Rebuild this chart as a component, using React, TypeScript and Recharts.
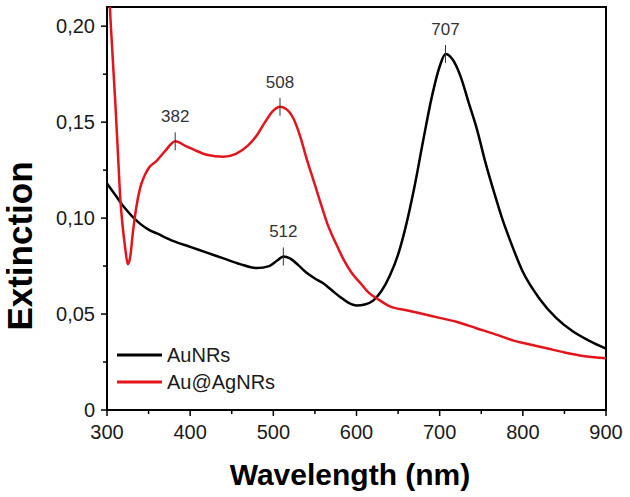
import React from "react";
import {
  ComposedChart,
  Line,
  Scatter,
  XAxis,
  YAxis,
  ReferenceArea,
} from "recharts";

// AuNRs extinction spectrum (wavelength nm, extinction)
const auWavelengths = [
  300, 310, 320, 330, 340, 350, 360, 380, 400, 420, 440, 460, 480, 495, 505,
  512, 520, 530, 540, 550, 560, 570, 580, 590, 600, 610, 620, 630, 640, 650,
  660, 670, 680, 690, 700, 707, 715, 725, 735, 745, 755, 765, 775, 785, 800,
  820, 840, 860, 880, 900,
];
const auExtinction = [
  0.118, 0.112, 0.106, 0.101, 0.097, 0.094, 0.092, 0.088, 0.085, 0.082, 0.079,
  0.076, 0.074, 0.075, 0.078, 0.08, 0.079, 0.0755, 0.0715, 0.0685, 0.066,
  0.0625, 0.059, 0.056, 0.0545, 0.055, 0.057, 0.062, 0.07, 0.081, 0.097, 0.117,
  0.14, 0.162, 0.179, 0.1855, 0.183, 0.174, 0.16, 0.146, 0.129, 0.114, 0.1,
  0.088, 0.072, 0.058, 0.048, 0.041, 0.036, 0.032,
];

// Au@AgNRs extinction spectrum
const agWavelengths = [
  300, 303, 306, 310, 313, 316, 319, 322, 325, 328, 331, 335, 340, 345, 350,
  360, 370, 382, 395, 405, 420, 440, 455, 470, 480, 490, 500, 508, 515, 524,
  532, 540, 548, 556, 565, 575, 585, 595, 605, 615, 625, 640, 660, 680, 700,
  720, 745, 770, 790, 810, 830, 850, 875, 900,
];
const agExtinction = [
  0.26, 0.215, 0.19, 0.16, 0.135, 0.11, 0.095, 0.084, 0.076, 0.08, 0.092,
  0.105, 0.116, 0.122, 0.126, 0.13, 0.135, 0.14, 0.1375, 0.1355, 0.133, 0.132,
  0.1335, 0.138, 0.143, 0.15, 0.156, 0.158, 0.157, 0.152, 0.143, 0.131, 0.12,
  0.109, 0.097, 0.087, 0.078, 0.071, 0.066, 0.061, 0.058, 0.054, 0.052, 0.05,
  0.048, 0.046, 0.0425, 0.039, 0.036, 0.034, 0.032, 0.03, 0.028, 0.027,
];

// annotated peaks
const peakWavelengths = [382, 508, 512, 707];
const peakExtinction = [0.14, 0.158, 0.08, 0.1855];

const seriesNames = ["AuNRs", "Au@AgNRs"];
const seriesColors = ["#000000", "#e3141b"];

const xTicks = [
  300, 350, 400, 450, 500, 550, 600, 650, 700, 750, 800, 850, 900,
];
const yTicks = [0, 0.025, 0.05, 0.075, 0.1, 0.125, 0.15, 0.175, 0.2];

const auData = auWavelengths.map((x, i) => ({ x, y: auExtinction[i] }));
const agData = agWavelengths.map((x, i) => ({ x, y: agExtinction[i] }));
const peakData = peakWavelengths.map((x, i) => ({ x, y: peakExtinction[i] }));

const FONT = "'Liberation Sans', Arial, sans-serif";

const XTick = ({ x, y, payload }: any) => {
  const major = payload.value % 100 === 0;
  return (
    <g>
      <line x1={x} x2={x} y1={y} y2={y + (major ? 6 : 4)} stroke="#000" strokeWidth={1.5} />
      {major && (
        <text x={x} y={y + 29} textAnchor="middle" fontSize={20} fontFamily={FONT} fill="#1a1a1a">
          {payload.value}
        </text>
      )}
    </g>
  );
};

const YTick = ({ x, y, payload }: any) => {
  const major = Math.round(payload.value * 1000) % 50 === 0;
  const label = payload.value === 0 ? "0" : payload.value.toFixed(2).replace(".", ",");
  return (
    <g>
      <line x1={x} x2={x - (major ? 6 : 4)} y1={y} y2={y} stroke="#000" strokeWidth={1.5} />
      {major && (
        <text x={x - 12} y={y + 7} textAnchor="end" fontSize={20} fontFamily={FONT} fill="#1a1a1a">
          {label}
        </text>
      )}
    </g>
  );
};

const PeakMark = ({ cx, cy, payload }: any) => (
  <g>
    <line x1={cx} x2={cx} y1={cy - 9} y2={cy + 9} stroke="#333" strokeWidth={1} />
    <text x={cx} y={cy - 19} textAnchor="middle" fontSize={17} fontFamily={FONT} fill="#333">
      {payload.x}
    </text>
  </g>
);

// legend drawn inside the plot, lower left
const LegendMarks = () => (
  <g>
    {seriesNames.map((name, i) => (
      <g key={name}>
        <line x1={117} x2={162} y1={355 + i * 27} y2={355 + i * 27} stroke={seriesColors[i]} strokeWidth={3} />
        <text x={167} y={362 + i * 27} fontSize={20} fontFamily={FONT} fill="#1a1a1a">
          {name}
        </text>
      </g>
    ))}
  </g>
);

export default function App() {
  return (
    <div style={{ position: "absolute", left: 0, top: 0, background: "#fff" }}>
      <ComposedChart
        width={630}
        height={497}
        margin={{ top: 7, right: 24, bottom: 0, left: 0 }}
      >
        <XAxis
          type="number"
          dataKey="x"
          domain={[300, 900]}
          ticks={xTicks}
          tick={<XTick />}
          tickSize={0}
          tickMargin={0}
          tickLine={false}
          axisLine={{ stroke: "#000", strokeWidth: 2 }}
          height={87}
          allowDataOverflow
        />
        <YAxis
          type="number"
          dataKey="y"
          domain={[0, 0.21]}
          ticks={yTicks}
          tick={<YTick />}
          tickSize={0}
          tickMargin={0}
          tickLine={false}
          axisLine={{ stroke: "#000", strokeWidth: 2 }}
          width={107}
          allowDataOverflow
        />
        <ReferenceArea x1={300} x2={900} y1={0} y2={0.21} fill="none" stroke="#000" strokeWidth={2} />
        <Line
          data={auData}
          dataKey="y"
          name={seriesNames[0]}
          type="monotone"
          stroke={seriesColors[0]}
          strokeWidth={2.5}
          dot={false}
          isAnimationActive={false}
        />
        <Line
          data={agData}
          dataKey="y"
          name={seriesNames[1]}
          type="monotone"
          stroke={seriesColors[1]}
          strokeWidth={2.5}
          dot={false}
          isAnimationActive={false}
        />
        <Scatter
          data={peakData}
          dataKey="y"
          legendType="none"
          shape={<PeakMark />}
          isAnimationActive={false}
        />
        <LegendMarks />
        <text
          x={350}
          y={485}
          textAnchor="middle"
          fontSize={30}
          fontWeight="bold"
          fontFamily={FONT}
          fill="#000"
        >
          Wavelength (nm)
        </text>
        <text
          x={32}
          y={246}
          transform="rotate(-90 32 246)"
          textAnchor="middle"
          fontSize={35}
          fontWeight="bold"
          fontFamily={FONT}
          fill="#000"
        >
          Extinction
        </text>
      </ComposedChart>
    </div>
  );
}
